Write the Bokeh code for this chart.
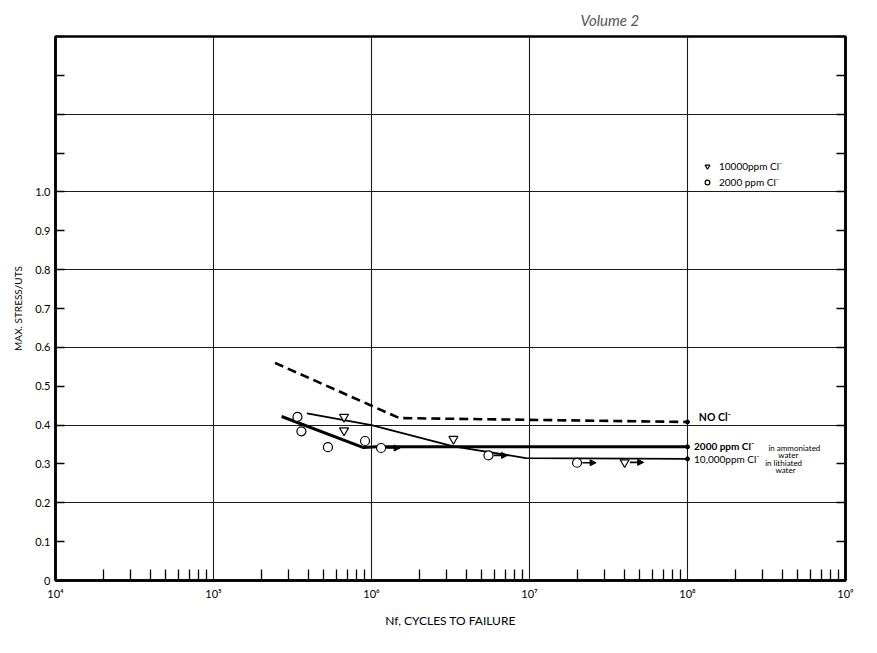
from bokeh.plotting import figure
from bokeh.models import (ColumnDataSource, FixedTicker, LinearAxis, CustomJSTickFormatter,
                          Legend, LegendItem, Arrow, NormalHead, Label, Range1d)
from bokeh.core.properties import value
from bokeh.embed import file_html
from bokeh.resources import INLINE

# ---------------- data ----------------
no_cl_n = [2.45e5, 1.5e6, 1.0e8]
no_cl_s = [0.56, 0.418, 0.408]

ppm2000_line_n = [2.7e5, 8.9e5, 1.08e6, 1.0e8]
ppm2000_line_s = [0.422, 0.342, 0.344, 0.344]

ppm10000_line_n = [3.9e5, 1.0e6, 3.3e6, 9.5e6, 1.0e8]
ppm10000_line_s = [0.43, 0.40, 0.345, 0.315, 0.313]

circ_n = [3.4e5, 3.6e5, 5.3e5, 9.1e5, 1.15e6, 5.5e6, 2.0e7]
circ_s = [0.421, 0.384, 0.343, 0.359, 0.341, 0.322, 0.303]
circ_runout = [False, False, False, False, True, True, True]

tri_n = [6.7e5, 6.7e5, 3.3e6, 4.0e7]
tri_s = [0.421, 0.386, 0.364, 0.304]
tri_runout = [False, False, False, True]

x_tick_values = [1e4, 1e5, 1e6, 1e7, 1e8, 1e9]
x_tick_labels = ["10⁴", "10⁵", "10⁶", "10⁷", "10⁸", "10⁹"]
x_minor_values = [m * d for d in [1e4, 1e5, 1e6, 1e7, 1e8] for m in range(2, 10)]
y_tick_values = [0, 0.1, 0.2, 0.3, 0.4, 0.5, 0.6, 0.7, 0.8, 0.9, 1.0, 1.1, 1.2, 1.3, 1.4]
y_tick_labels = ["0", "0.1", "0.2", "0.3", "0.4", "0.5", "0.6", "0.7", "0.8", "0.9", "1.0",
                 "", "", "", ""]
y_grid_values = [0.2, 0.4, 0.6, 0.8, 1.0, 1.2]

FONT = "Lato"
INK = "black"

p = figure(width=860, height=636, x_axis_type="log",
           x_range=Range1d(1e4, 1e9), y_range=Range1d(0, 1.4),
           output_backend="svg", toolbar_location=None,
           min_border_left=55, min_border_right=15, min_border_top=36, min_border_bottom=56)

p.title.text = "Volume 2"
p.title.align = "left"
p.title.offset = 525
p.title.text_font = FONT
p.title.text_font_style = "italic"
p.title.text_font_size = "15px"
p.title.text_color = "#555555"
p.title.standoff = 16

p.outline_line_color = INK
p.outline_line_width = 2.5

# grids
p.xgrid.ticker = FixedTicker(ticks=x_tick_values)
p.ygrid.ticker = FixedTicker(ticks=y_grid_values)
for g in (p.xgrid, p.ygrid):
    g.grid_line_color = "#1a1a1a"
    g.grid_line_width = 1.1

# x axis
xa = p.xaxis[0]
xa.ticker = FixedTicker(ticks=x_tick_values, minor_ticks=x_minor_values)
xa.formatter = CustomJSTickFormatter(args=dict(vals=x_tick_values, labs=x_tick_labels), code="""
const i = vals.findIndex(v => Math.abs(v - tick) < 1e-6 * v);
return i >= 0 ? labs[i] : "";
""")
xa.axis_label = "Nf, CYCLES TO FAILURE"
xa.axis_label_text_font = FONT
xa.axis_label_text_font_style = "normal"
xa.axis_label_text_font_size = "12px"
xa.axis_label_text_color = INK
xa.axis_label_standoff = 10
xa.major_label_text_font = FONT
xa.major_label_text_font_size = "11px"
xa.major_label_text_color = INK
xa.major_label_standoff = 6
xa.major_tick_in = 0
xa.major_tick_out = 0
xa.minor_tick_in = 11
xa.minor_tick_out = 0
xa.minor_tick_line_width = 1.3
xa.minor_tick_line_color = INK
xa.axis_line_width = 2.5
xa.axis_line_color = INK

# y axis
ya = p.yaxis[0]
ya.ticker = FixedTicker(ticks=y_tick_values)
ya.formatter = CustomJSTickFormatter(args=dict(vals=y_tick_values, labs=y_tick_labels), code="""
const i = vals.findIndex(v => Math.abs(v - tick) < 1e-6);
return i >= 0 ? labs[i] : "";
""")
ya.axis_label = "MAX. STRESS/UTS"
ya.axis_label_text_font = FONT
ya.axis_label_text_font_style = "normal"
ya.axis_label_text_font_size = "10px"
ya.axis_label_text_color = INK
ya.axis_label_standoff = 8
ya.major_label_text_font = FONT
ya.major_label_text_font_size = "11px"
ya.major_label_text_color = INK
ya.major_tick_in = 9
ya.major_tick_out = 0
ya.major_tick_line_width = 1.5
ya.major_tick_line_color = INK
ya.minor_tick_in = 0
ya.minor_tick_out = 0
ya.axis_line_width = 2.5
ya.axis_line_color = INK

ra = LinearAxis(ticker=FixedTicker(ticks=y_tick_values),
                formatter=CustomJSTickFormatter(code="return '';"))
ra.major_tick_in = 9
ra.major_tick_out = 0
ra.major_tick_line_width = 1.5
ra.major_tick_line_color = INK
ra.minor_tick_in = 0
ra.minor_tick_out = 0
ra.axis_line_width = 2.5
ra.axis_line_color = INK
p.add_layout(ra, "right")

# curves
p.line(no_cl_n, no_cl_s, line_color=INK, line_width=2.6, line_dash="9 5")
p.line(ppm2000_line_n, ppm2000_line_s, line_color=INK, line_width=3)
p.line(ppm10000_line_n, ppm10000_line_s, line_color=INK, line_width=1.8)

# end dots
p.scatter([no_cl_n[-1], ppm2000_line_n[-1], ppm10000_line_n[-1]],
          [no_cl_s[-1], ppm2000_line_s[-1], ppm10000_line_s[-1]],
          marker="circle", size=4, color=INK)

# run-out arrows
ro_n = [n for n, r in zip(circ_n, circ_runout) if r] + [n for n, r in zip(tri_n, tri_runout) if r]
ro_s = [s for s, r in zip(circ_s, circ_runout) if r] + [s for s, r in zip(tri_s, tri_runout) if r]
ro_src = ColumnDataSource(dict(x0=[n * 1.08 for n in ro_n], x1=[n * 1.32 for n in ro_n], y=ro_s))
p.add_layout(Arrow(end=NormalHead(size=6, fill_color=INK, line_color=INK),
                   x_start="x0", y_start="y", x_end="x1", y_end="y",
                   source=ro_src, line_width=1.6, line_color=INK))

# data points
r_tri = p.scatter(tri_n, tri_s, marker="inverted_triangle", size=9,
                  fill_color="white", line_color=INK, line_width=1.2)
r_circ = p.scatter(circ_n, circ_s, marker="circle", size=9,
                   fill_color="white", line_color=INK, line_width=1.2)

legend = Legend(items=[LegendItem(label="10000ppm Cl⁻", renderers=[r_tri]),
                       LegendItem(label="2000 ppm Cl⁻", renderers=[r_circ])],
                location=(646, 392), border_line_color=None, background_fill_alpha=0,
                label_text_font=FONT, label_text_font_size="10px", label_text_color=INK,
                glyph_width=12, glyph_height=12, label_height=12, spacing=4, padding=2,
                margin=0, label_standoff=6)
p.add_layout(legend)

# curve labels
def lab(x, y, t, size="10px", style="normal"):
    p.add_layout(Label(x=x, y=y, text=t, text_font=FONT, text_font_size=size,
                       text_font_style=style, text_color=INK,
                       text_baseline="middle", text_align="left"))

lab(1.18e8, 0.42, "NO Cl⁻", "10.5px", "bold")
lab(1.1e8, 0.347, "2000 ppm Cl⁻", "10px", "bold")
lab(1.1e8, 0.313, "10,000ppm Cl⁻", "10px")
lab(3.25e8, 0.342, "in ammoniated", "8px")
lab(3.75e8, 0.324, "water", "8px")
lab(3.1e8, 0.302, "in lithiated", "8px")
lab(3.6e8, 0.284, "water", "8px")

open("out.html", "w").write(file_html(p, INLINE))
